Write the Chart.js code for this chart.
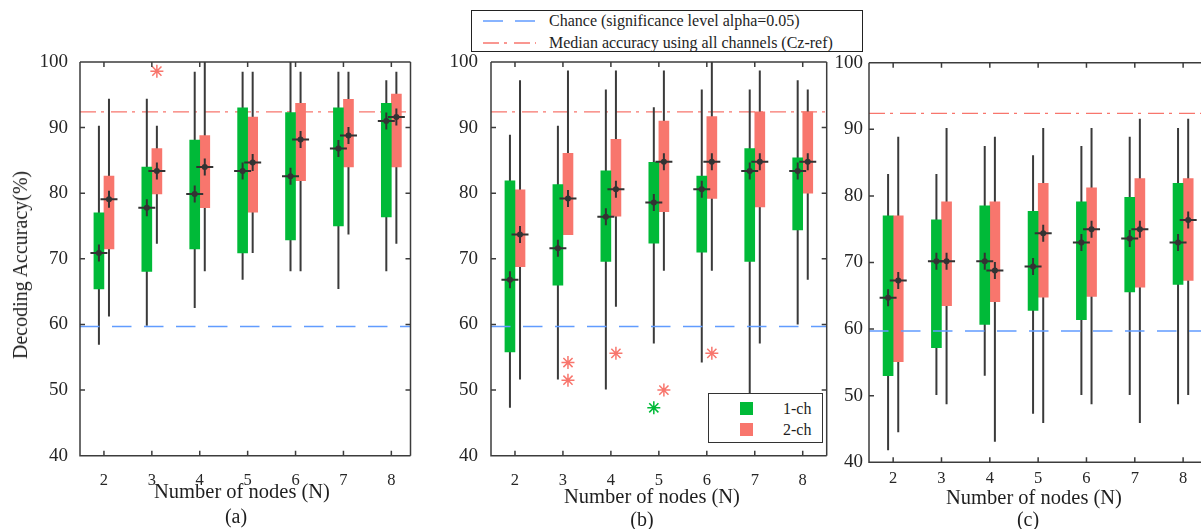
<!DOCTYPE html>
<html>
<head>
<meta charset="utf-8">
<title>Decoding accuracy vs number of nodes</title>
<script src="https://cdn.jsdelivr.net/npm/chart.js@4.4.1/dist/chart.umd.min.js"></script>
<style>
  html, body { margin: 0; padding: 0; background: #fff; overflow: hidden; }
  body { width: 1201px; height: 529px; position: relative; font-family: "Liberation Serif", "Times New Roman", serif; color: #1e1e1e; }
  canvas { position: absolute; top: 0; }
  .lbl { position: absolute; white-space: nowrap; line-height: 1; transform: translate(-50%, -50%); }
  .ttl { font-size: 20.5px; }
  .sub { font-size: 20px; }
  #ytitle { position: absolute; left: 19.5px; top: 265px; font-size: 20px; line-height: 1; white-space: nowrap; transform: translate(-50%, -50%) rotate(-90deg); }
  #topLegend { position: absolute; left: 471px; top: 10px; width: 392px; height: 42px; box-sizing: border-box; border: 1.3px solid #222; background: #fff; }
  #topLegend svg { position: absolute; left: 0; top: 0; }
  #topLegend .t { position: absolute; left: 77px; font-size: 16px; line-height: 1; white-space: nowrap; transform: translateY(-50%); }
  #chLegend { position: absolute; left: 708px; top: 393px; width: 115px; height: 50px; box-sizing: border-box; border: 1.3px solid #333; background: #fff; }
  #chLegend .sw { position: absolute; left: 31px; width: 13px; height: 13px; }
  #chLegend .t { position: absolute; left: 74px; font-size: 16px; line-height: 1; transform: translateY(-50%); }
</style>
</head>
<body>
<canvas id="panelA" width="420" height="529" style="left:0px"></canvas>
<canvas id="panelB" width="410" height="529" style="left:420px"></canvas>
<canvas id="panelC" width="371" height="529" style="left:830px"></canvas>

<div id="ytitle">Decoding Accuracy(%)</div>
<div class="lbl ttl" style="left:242px;top:490.5px">Number of nodes (N)</div>
<div class="lbl ttl" style="left:652px;top:496px">Number of nodes (N)</div>
<div class="lbl ttl" style="left:1034px;top:497px">Number of nodes (N)</div>
<div class="lbl sub" style="left:236px;top:516px">(a)</div>
<div class="lbl sub" style="left:642px;top:519px">(b)</div>
<div class="lbl sub" style="left:1028px;top:519px">(c)</div>

<div id="topLegend">
  <svg width="70" height="40">
    <line x1="11" y1="10" x2="64" y2="10" stroke="#619cff" stroke-width="1.5" stroke-dasharray="20 12"></line>
    <line x1="11" y1="32" x2="64" y2="32" stroke="#f8766d" stroke-width="1.3" stroke-dasharray="16 5 3 7"></line>
  </svg>
  <div class="t" style="top:10px">Chance (significance level alpha=0.05)</div>
  <div class="t" style="top:32px">Median accuracy using all channels (Cz-ref)</div>
</div>

<div id="chLegend">
  <div class="sw" style="top:7.5px;background:#00ba38"></div>
  <div class="t" style="top:15px">1-ch</div>
  <div class="sw" style="top:28.5px;background:#f8766d"></div>
  <div class="t" style="top:36px">2-ch</div>
</div>

<script>
// x categories and y ticks
var nodes = [2, 3, 4, 5, 6, 7, 8];
var yTicks = [40, 50, 60, 70, 80, 90, 100];
var chanceLevel = 59.7;
var allChannelMedian = 92.4;

// (a) 1-ch / 2-ch : whisker low, Q1, median, Q3, whisker high
var a1Lo  = [56.9, 59.8, 62.5, 66.8, 68.1, 65.4, 68.1];
var a1Q1  = [65.4, 68.1, 71.5, 70.9, 72.9, 75.0, 76.4];
var a1Med = [70.9, 77.8, 79.9, 83.4, 82.6, 86.8, 91.0];
var a1Q3  = [77.0, 84.0, 88.1, 93.0, 92.3, 93.0, 93.7];
var a1Hi  = [90.3, 94.4, 98.5, 98.5, 100, 98.5, 97.2];
var a2Lo  = [61.2, 72.3, 68.1, 70.9, 68.1, 73.7, 72.3];
var a2Q1  = [71.5, 79.9, 77.8, 77.1, 81.9, 84.0, 84.0];
var a2Med = [79.1, 83.4, 84.0, 84.7, 88.2, 88.8, 91.6];
var a2Q3  = [82.6, 86.8, 88.8, 91.6, 93.7, 94.3, 95.1];
var a2Hi  = [94.4, 90.3, 100, 98.5, 98.5, 98.5, 98.5];
var a1Out = [];
var a2Out = [{ n: 3, y: 98.6 }];

// (b)
var b1Lo  = [47.3, 51.6, 50.1, 57.1, 54.2, 48.0, 60.0];
var b1Q1  = [55.8, 66.0, 69.6, 72.4, 71.0, 69.6, 74.4];
var b1Med = [66.8, 71.6, 76.4, 78.6, 80.6, 83.4, 83.4];
var b1Q3  = [81.9, 81.3, 83.4, 84.7, 82.6, 86.8, 85.4];
var b1Hi  = [88.9, 90.3, 95.8, 93.1, 95.8, 95.8, 97.2];
var b2Lo  = [51.6, 73.7, 62.7, 68.2, 68.2, 57.1, 66.8];
var b2Q1  = [68.8, 73.7, 76.5, 77.2, 79.2, 77.9, 80.0];
var b2Med = [73.7, 79.2, 80.6, 84.8, 84.8, 84.8, 84.8];
var b2Q3  = [80.5, 86.1, 88.2, 91.0, 91.7, 92.4, 92.4];
var b2Hi  = [97.2, 98.7, 98.7, 98.7, 100, 98.7, 95.8];
var b1Out = [{ n: 5, y: 47.3 }];
var b2Out = [{ n: 3, y: 54.2 }, { n: 3, y: 51.5 }, { n: 4, y: 55.6 }, { n: 5, y: 50.0 }, { n: 6, y: 55.6 }];

// (c)
var c1Lo  = [41.8, 50.1, 53.0, 47.3, 50.1, 50.1, 48.7];
var c1Q1  = [53.0, 57.2, 60.7, 62.8, 61.4, 65.6, 66.7];
var c1Med = [64.7, 70.2, 70.2, 69.4, 73.0, 73.6, 73.0];
var c1Q3  = [77.0, 76.4, 78.5, 77.7, 79.1, 79.8, 81.9];
var c1Hi  = [83.3, 83.3, 87.5, 86.1, 87.5, 88.9, 90.2];
var c2Lo  = [44.5, 48.7, 43.1, 45.9, 48.7, 45.9, 50.1];
var c2Q1  = [55.1, 63.5, 64.1, 64.8, 64.9, 66.3, 67.3];
var c2Med = [67.3, 70.2, 68.8, 74.4, 75.0, 75.0, 76.4];
var c2Q3  = [77.0, 79.1, 79.1, 81.9, 81.2, 82.6, 82.6];
var c2Hi  = [88.9, 90.2, 88.9, 90.2, 90.2, 91.6, 91.6];
var c1Out = [];
var c2Out = [];

var GREEN = '#00ba38', RED = '#f8766d', BLUE = '#619cff', INK = '#333333';
var off = 0.105;   // half distance between the 1-ch and 2-ch boxes

function ranges(lo, hi, dx) {
  return nodes.map(function (n, i) { return { x: n + dx, y: [lo[i], hi[i]] }; });
}
function points(v, dx) {
  return nodes.map(function (n, i) { return { x: n + dx, y: v[i] }; });
}
function outPoints(list, dx) {
  return list.map(function (o) { return { x: o.n + dx, y: o.y }; });
}

// box frame with inward ticks on every side
var framePlugin = {
  id: 'frame',
  afterDatasetsDraw: function (chart, args, opts) {
    var ctx = chart.ctx, a = chart.chartArea;
    var xs = chart.scales.x, ys = chart.scales.y, tl = 5;
    var r = a.right + (opts.right ? 0 : 2);
    ctx.save();
    ctx.strokeStyle = '#3c3c3c';
    ctx.lineWidth = 1.5;
    ctx.beginPath();
    ctx.moveTo(a.left, a.top); ctx.lineTo(r, a.top);
    ctx.moveTo(a.left, a.top); ctx.lineTo(a.left, a.bottom); ctx.lineTo(r, a.bottom);
    if (opts.right) { ctx.moveTo(a.right, a.top); ctx.lineTo(a.right, a.bottom); }
    xs.ticks.forEach(function (t) {
      var px = xs.getPixelForValue(t.value);
      ctx.moveTo(px, a.bottom); ctx.lineTo(px, a.bottom - tl);
      ctx.moveTo(px, a.top); ctx.lineTo(px, a.top + tl);
    });
    ys.ticks.forEach(function (t) {
      var py = ys.getPixelForValue(t.value);
      ctx.moveTo(a.left, py); ctx.lineTo(a.left + tl, py);
      if (opts.right) { ctx.moveTo(a.right, py); ctx.lineTo(a.right - tl, py); }
    });
    ctx.stroke();
    ctx.restore();
  }
};

function makePanel(id, g, d) {
  var xMin = 1.5;
  var datasets = [
    { type: 'line', data: [{ x: xMin, y: allChannelMedian }, { x: g.xMax, y: allChannelMedian }],
      borderColor: RED, borderWidth: 1.3, borderDash: [16, 5, 3, 7], pointRadius: 0, order: 7 },
    { type: 'bar', data: ranges(d.lo1, d.hi1, -off), backgroundColor: '#3a3a3a', barThickness: 2, inflateAmount: 0, order: 6 },
    { type: 'bar', data: ranges(d.lo2, d.hi2, off), backgroundColor: '#3a3a3a', barThickness: 2, inflateAmount: 0, order: 6 },
    { type: 'bar', label: '1-ch', data: ranges(d.q11, d.q31, -off), backgroundColor: GREEN, barThickness: 10, order: 5 },
    { type: 'bar', label: '2-ch', data: ranges(d.q12, d.q32, off), backgroundColor: RED, barThickness: 10, order: 5 },
    { type: 'line', data: [{ x: xMin, y: chanceLevel }, { x: g.xMax, y: chanceLevel }],
      borderColor: BLUE, borderWidth: 1.5, borderDash: [19.5, 12.5], pointRadius: 0, order: 4 },
    { type: 'scatter', data: points(d.med1, -off).concat(points(d.med2, off)),
      pointStyle: 'cross', pointRadius: 8.5, borderWidth: 2, borderColor: INK, order: 3 },
    { type: 'scatter', data: points(d.med1, -off).concat(points(d.med2, off)),
      pointStyle: 'circle', pointRadius: 3, borderWidth: 0, backgroundColor: INK, order: 2 },
    { type: 'scatter', data: outPoints(d.out1, -off),
      pointStyle: 'star', pointRadius: 6.5, borderWidth: 1.5, borderColor: GREEN, order: 1 },
    { type: 'scatter', data: outPoints(d.out2, off),
      pointStyle: 'star', pointRadius: 6.5, borderWidth: 1.5, borderColor: RED, order: 1 }
  ];

  return new Chart(document.getElementById(id), {
    type: 'bar',
    data: { datasets: datasets },
    options: {
      responsive: false,
      animation: false,
      events: [],
      datasets: { bar: { grouped: false, borderWidth: 0, borderSkipped: false } },
      layout: { autoPadding: false, padding: { left: 0, top: g.top, right: g.canvasLeft + g.canvasWidth - g.right, bottom: 0 } },
      plugins: { legend: { display: false }, tooltip: { enabled: false }, frame: { right: g.frameRight } },
      scales: {
        x: {
          type: 'linear', min: xMin, max: g.xMax, offset: false,
          grid: { display: false, drawTicks: false, tickLength: 0, offset: false },
          border: { display: false },
          afterBuildTicks: function (s) { s.ticks = nodes.map(function (v) { return { value: v }; }); },
          afterFit: function (s) { s.height = 529 - g.bottom; s.paddingLeft = 0; s.paddingRight = 0; },
          ticks: { padding: g.xGap, color: '#262626', font: { family: 'Liberation Serif', size: 16.5 } }
        },
        y: {
          type: 'linear', min: 40, max: 100,
          grid: { display: false, drawTicks: false, tickLength: 0 },
          border: { display: false },
          afterBuildTicks: function (s) { s.ticks = yTicks.map(function (v) { return { value: v }; }); },
          afterFit: function (s) { s.width = g.left - g.canvasLeft; s.paddingTop = 0; s.paddingBottom = 0; },
          ticks: { padding: g.yGap, color: '#262626', font: { family: 'Liberation Serif', size: 19 } }
        }
      }
    },
    plugins: [framePlugin]
  });
}

makePanel('panelA',
  { canvasLeft: 0, canvasWidth: 420, left: 80, right: 410.5, top: 62, bottom: 455.7, xMax: 8.4, yGap: 12, xGap: 15, frameRight: true },
  { lo1: a1Lo, q11: a1Q1, med1: a1Med, q31: a1Q3, hi1: a1Hi, lo2: a2Lo, q12: a2Q1, med2: a2Med, q32: a2Q3, hi2: a2Hi, out1: a1Out, out2: a2Out });

makePanel('panelB',
  { canvasLeft: 420, canvasWidth: 410, left: 491, right: 826.7, top: 62, bottom: 455.7, xMax: 8.5, yGap: 13, xGap: 15, frameRight: true },
  { lo1: b1Lo, q11: b1Q1, med1: b1Med, q31: b1Q3, hi1: b1Hi, lo2: b2Lo, q12: b2Q1, med2: b2Med, q32: b2Q3, hi2: b2Hi, out1: b1Out, out2: b2Out });

makePanel('panelC',
  { canvasLeft: 830, canvasWidth: 371, left: 869, right: 1201, top: 62.7, bottom: 462.3, xMax: 8.37, yGap: 6, xGap: 6, frameRight: false },
  { lo1: c1Lo, q11: c1Q1, med1: c1Med, q31: c1Q3, hi1: c1Hi, lo2: c2Lo, q12: c2Q1, med2: c2Med, q32: c2Q3, hi2: c2Hi, out1: c1Out, out2: c2Out });
</script>
</body>
</html>
